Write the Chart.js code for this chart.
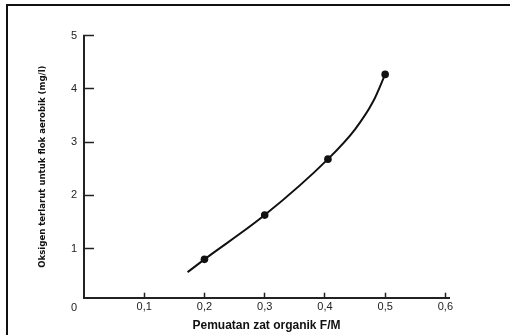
<!DOCTYPE html>
<html lang="en">
<head>
<meta charset="UTF-8">
<title>Oksigen terlarut vs F/M</title>
<script src="https://cdn.jsdelivr.net/npm/chart.js"></script>
<style>
    html, body { margin: 0; padding: 0; background: #fff; overflow: hidden; }
    .frame { position: absolute; left: 6px; top: 4px; width: 600px; height: 400px; border: 2px solid #111; }
    .chart-box { position: absolute; left: 0; top: 0; width: 510px; height: 335px; }
</style>
</head>
<body>
<div class="frame"></div>
<div class="chart-box"><canvas id="foChart"></canvas></div>
<script>
    const fmLoad = [0.172, 0.2, 0.3, 0.405, 0.45, 0.48, 0.5];
    const oxygen = [0.56, 0.8, 1.63, 2.68, 3.24, 3.76, 4.27];
    const measured = [false, true, true, true, false, false, true];
    const xTicks = [0.1, 0.2, 0.3, 0.4, 0.5, 0.6];
    const yTicks = [1, 2, 3, 4, 5];

    const tickFont = { family: 'Liberation Sans', size: 11 };

    // the shared "0" sits in the corner, left of the axis
    const cornerZero = {
        id: 'cornerZero',
        afterDraw(chart) {
            const x = chart.scales.x;
            const ctx = chart.ctx;
            ctx.save();
            ctx.font = '11px "Liberation Sans"';
            ctx.fillStyle = '#222';
            ctx.textAlign = 'center';
            ctx.textBaseline = 'middle';
            ctx.fillText('0', x.getPixelForValue(0) - 10, x.top + 10);
            ctx.restore();
        }
    };

    new Chart(document.getElementById('foChart'), {
        type: 'scatter',
        data: {
            datasets: [{
                data: fmLoad.map((v, i) => ({ x: v, y: oxygen[i] })),
                showLine: true,
                borderColor: '#111',
                borderWidth: 2,
                cubicInterpolationMode: 'monotone',
                pointRadius: ctx => measured[ctx.dataIndex] ? 3.8 : 0,
                pointBackgroundColor: '#111',
                pointBorderColor: '#111',
                pointBorderWidth: 0
            }]
        },
        options: {
            responsive: true,
            maintainAspectRatio: false,
            animation: false,
            layout: { padding: { left: 0, top: 35.5, right: 61, bottom: 0 } },
            plugins: { legend: { display: false }, tooltip: { enabled: false } },
            scales: {
                x: {
                    type: 'linear',
                    min: 0,
                    max: 0.606,
                    afterBuildTicks: s => { s.ticks = xTicks.map(v => ({ value: v })); },
                    afterFit: s => { s.height = 37.3; },
                    border: { color: '#222', width: 2 },
                    grid: { drawOnChartArea: false, tickLength: -5, tickColor: '#222', tickWidth: 1.5 },
                    ticks: {
                        padding: 8,
                        color: '#222',
                        font: tickFont,
                        maxRotation: 0,
                        autoSkip: false,
                        callback: v => v.toFixed(1).replace('.', ',')
                    },
                    title: {
                        display: true,
                        text: 'Pemuatan zat organik F/M',
                        color: '#111',
                        font: { family: 'Liberation Sans', size: 12, weight: 'bold' },
                        padding: { top: 0, bottom: 2 }
                    }
                },
                y: {
                    min: 0.08,
                    max: 5,
                    afterBuildTicks: s => { s.ticks = yTicks.map(v => ({ value: v })); },
                    afterFit: s => { s.width = 84; },
                    border: { color: '#222', width: 2 },
                    grid: { drawOnChartArea: false, tickLength: -10, tickColor: '#222', tickWidth: 1.5 },
                    ticks: {
                        padding: 17,
                        color: '#222',
                        font: tickFont
                    },
                    title: {
                        display: true,
                        text: 'Oksigen terlarut untuk flok aerobik (mg/l)',
                        color: '#111',
                        font: { family: '"Liberation Sans Narrow", "DejaVu Sans Condensed", sans-serif', size: 9.5, weight: 'bold' },
                        padding: { top: 37, bottom: 0 }
                    }
                }
            }
        },
        plugins: [cornerZero]
    });
</script>
</body>
</html>
